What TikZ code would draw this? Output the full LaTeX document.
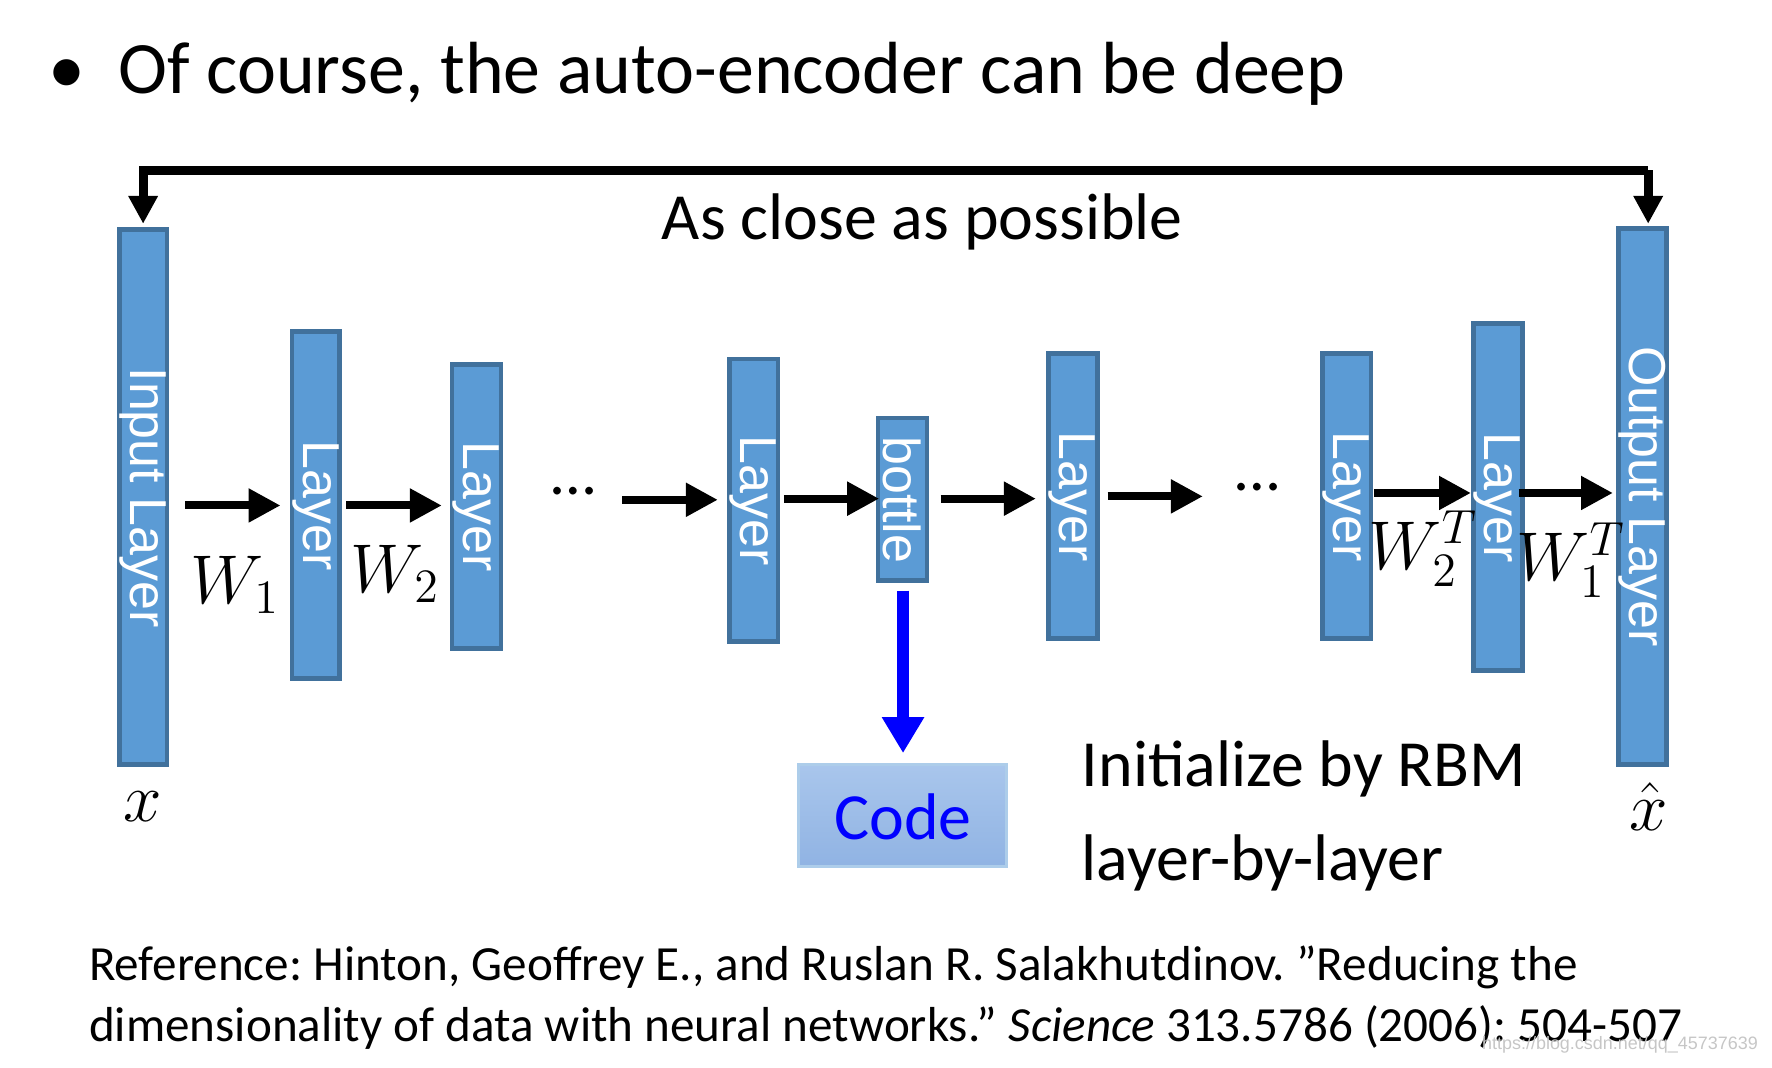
\documentclass[tikz,border=0pt]{standalone}
\usepackage{fontspec}
\setmainfont{Carlito}
\newfontfamily\arialf{Liberation Sans}
\usetikzlibrary{arrows.meta}
\definecolor{lay}{HTML}{5B9BD5}
\definecolor{layb}{HTML}{41719C}
\definecolor{codet}{HTML}{A9C6EC}
\definecolor{codeb}{HTML}{90B3E3}
\begin{document}
\frenchspacing
\begin{tikzpicture}[x=0.01cm,y=-0.01cm,
  lyr/.style={draw=layb,line width=1.2pt,fill=lay},
  lt/.style={text=white,font=\arialf\fontsize{13}{13}\selectfont,rotate=-90},
  arr/.style={line width=2pt,-{Triangle[length=8pt,width=8pt]}},
  wl/.style={font=\fontsize{18}{18}\selectfont}]
\useasboundingbox (0,0) rectangle (1560,940);
\node[anchor=west,font=\fontsize{18.5}{18.5}\selectfont] (title) at (30,65) {\textbullet\ \ Of course, the auto-encoder can be deep};
% layers
\foreach \n/\xa/\xb/\ya/\yb in {in/105/147/202/673, l1/257/299/292/597, l2/398/441/321/571, l3/642/685/316/565, bt/773/816/368/511, l4/923/966/311/562, l5/1164/1207/311/562, l6/1297/1340/285/590, out/1425/1467/201/673}{
  \draw[lyr] (\xa,\ya) rectangle (\xb,\yb);
}
\node[lt] (tin) at (126,438) {Input Layer};
\node[lt] (t1) at (278,445) {Layer};
\node[lt] (t2) at (419,446) {Layer};
\node[lt] (t3) at (663,441) {Layer};
\node[lt] (tb) at (794,440) {bottle};
\node[lt] (t4) at (944,437) {Layer};
\node[lt] (t5) at (1185,437) {Layer};
\node[lt] (t6) at (1318,438) {Layer};
\node[lt] (tout) at (1446,437) {Output Layer};
% arrows
\coordinate (a1s) at (163,445); \coordinate (a1e) at (247,445);
\coordinate (a2s) at (305,445); \coordinate (a2e) at (389,445);
\coordinate (a3s) at (548,440); \coordinate (a3e) at (632,440);
\coordinate (a4s) at (690,439); \coordinate (a4e) at (774,439);
\coordinate (a5s) at (828,439); \coordinate (a5e) at (912,439);
\coordinate (a6s) at (975,437); \coordinate (a6e) at (1059,437);
\coordinate (a7s) at (1210,434); \coordinate (a7e) at (1295,434);
\coordinate (a8s) at (1337,434); \coordinate (a8e) at (1420,434);
\foreach \i in {1,...,8}{\draw[arr] (a\i s) -- (a\i e);}
\node[font=\fontsize{16}{16}\selectfont] (d1) at (505,432) {\dots};
\node[font=\fontsize{16}{16}\selectfont] (d2) at (1107,429) {\dots};
\node[wl] (w1) at (207,515) {$W_1$};
\node[wl] (w2) at (348,505) {$W_2$};
\node[wl] (w2t) at (1253,483) {$W_2^T$};
\node[wl] (w1t) at (1383,493) {$W_1^T$};
\node[wl] (x) at (126,710) {$x$};
\node[wl] (xh) at (1451,710) {$\hat{x}$};
% top bracket
\coordinate (tl) at (126,197); \coordinate (tr) at (1451,197);
\draw[line width=2.2pt,-{Triangle[length=7pt,width=7pt]}] (1451,150) -- (tr);
\draw[line width=2.2pt,-{Triangle[length=7pt,width=7pt]}] (1451,150) -- (126,150) -- (tl);
\node[font=\fontsize{16.5}{16.5}\selectfont] (acp) at (812,195) {As close as possible};
% code
\draw[draw=lay!50,line width=0.8pt,top color=codet,bottom color=codeb] (703,673) rectangle (886,763);
\node[text=blue,font=\fontsize{16.5}{16.5}\selectfont] (code) at (795,719) {Code};
\coordinate (bs) at (795,520); \coordinate (be) at (795,663);
\draw[blue,line width=3pt,-{Triangle[length=9pt,width=10pt]}] (bs) -- (be);
\node[anchor=west,font=\fontsize{16.5}{16.5}\selectfont,align=left] (init) at (940,718) {Initialize by RBM\\[7pt]layer-by-layer};
% reference
\node[anchor=west,font=\fontsize{12.3}{12.3}\selectfont,align=left] (ref) at (66,878) {Reference: Hinton, Geoffrey E., and Ruslan R. Salakhutdinov. \char34 Reducing the\\[3pt]dimensionality of data with neural networks.\char34\ \textit{Science} 313.5786 (2006): 504-507};
\node[anchor=south east,text=gray!45,font=\arialf\fontsize{4.5}{4.5}\selectfont] (wm) at (1560,940) {https://blog.csdn.net/qq\_45737639};
\end{tikzpicture}
\end{document}
